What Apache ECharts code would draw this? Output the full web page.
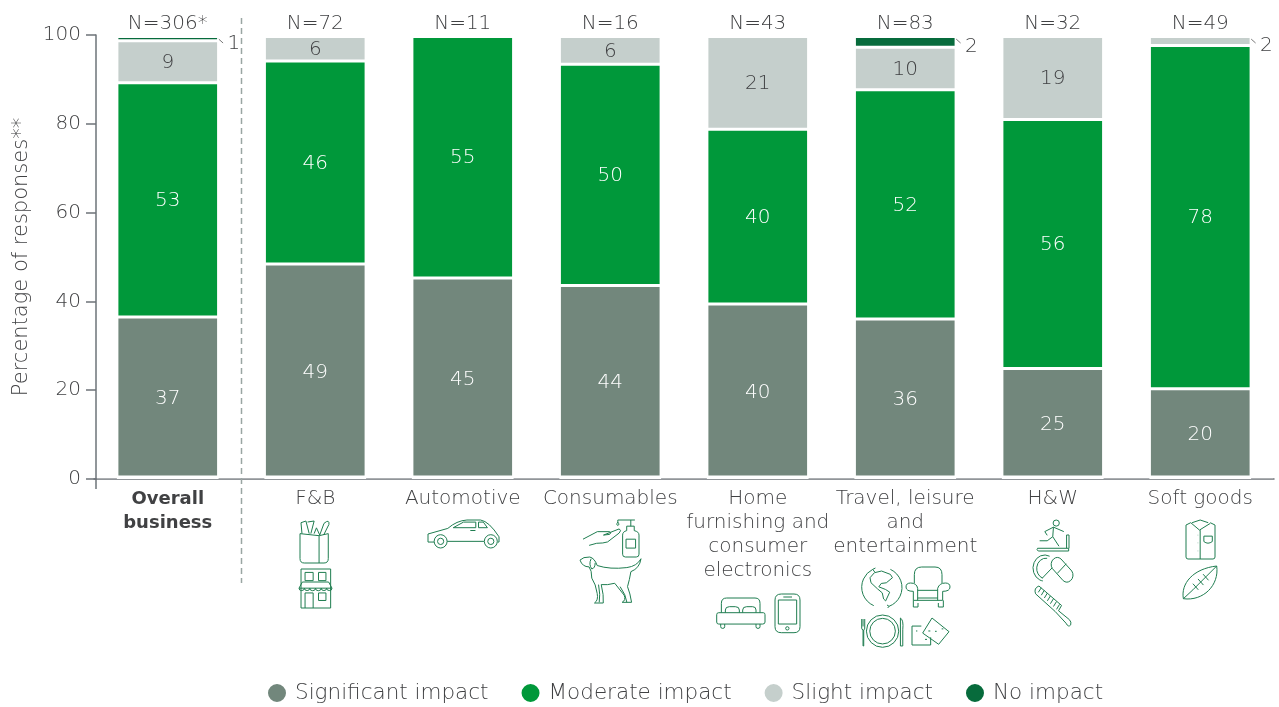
<!DOCTYPE html>
<html><head><meta charset="utf-8">
<style>html,body{margin:0;padding:0;background:#fff}#c{width:1279px;height:707px}</style>
<script src="https://cdn.jsdelivr.net/npm/echarts@6/dist/echarts.min.js"></script>
</head><body><div id="c"></div>
<script>
const categories = ['Overall\nbusiness','F&B','Automotive','Consumables','Home\nfurnishing and\nconsumer\nelectronics','Travel, leisure\nand\nentertainment','H&W','Soft goods'];
const sampleLabels = ['N=306*','N=72','N=11','N=16','N=43','N=83','N=32','N=49'];
const yTicks = [0,20,40,60,80,100];
const significant = [36.60,48.61,45.45,43.75,39.53,36.14,25.00,20.41];
const moderate    = [52.94,45.83,54.55,50.00,39.53,51.81,56.25,77.55];
const slight      = [9.48,5.56,null,6.25,20.93,9.64,18.75,2.04];
const noImpact    = [0.98,null,null,null,null,2.41,null,null];

const TEXT='#404143', FONT='"DejaVu Sans"', FS=20, W=200;
const GRID={left:94,right:5,top:35,bottom:228};
const BAR=101.7;
const ICON='#1f7d50';

function seriesOf(name,values,color,labelColor){
  return {name,type:'bar',stack:'s',xAxisIndex:0,yAxisIndex:1,barWidth:BAR,
    itemStyle:{color,borderColor:'#fff',borderWidth:1.5},
    emphasis:{disabled:true},
    data:values.map(v=>{
      const small=v!=null&&v<3;
      return {value:v,label:{show:v!=null,position:small?'right':'inside',offset:small?[4,5]:[0,1],
        color:small?TEXT:labelColor}};
    }),
    label:{show:true,fontFamily:FONT,fontSize:FS,fontWeight:W,formatter:p=>Math.round(p.value)}};
}

// decorative category pictograms: [path, x, y, w, h]
const icons=[
 ['M662 222V295Q662 308 675 308H735Q748 308 748 295V222L720 228L662 222M720 228V308M668 222L665 190L680 185L690 222M685 188L705 185L695 222M705 222L712 205L722 226M722 226L735 192Q752 178 750 195L734 226',300,521,29,42],
 ['M664 328H752V442H664ZM676 338H700V362H676ZM716 338H738V362H716ZM668 366H746L756 384H658ZM658 384A8 7 0 0 0 674 384A8 7 0 0 0 690 384A8 7 0 0 0 707 384A8 7 0 0 0 724 384A8 7 0 0 0 740 384A8 7 0 0 0 756 384M676 442V398H700V442M716 398H738V420H716Z',299,569,33,39],
 ['M1064 245H1046V222L1104 206Q1130 184 1160 182H1200Q1225 186 1254 230V245H1250M1102 243H1210M1120 204L1150 188H1186V204ZM1194 188H1208L1220 204H1194ZM1170 212H1185M1102 243A19 19 0 1 0 1064 243A19 19 0 1 0 1102 243M1092 243A9 9 0 1 0 1074 243A9 9 0 1 0 1092 243M1249 243A19 19 0 1 0 1211 243A19 19 0 1 0 1249 243M1239 243A9 9 0 1 0 1221 243A9 9 0 1 0 1239 243',428,520,71,28],
 ['M306 198Q306 188 318 185V172H340V185Q354 188 354 198V254Q354 262 346 262H314Q306 262 306 254ZM316 210H344V236H316ZM330 172V154M292 154H342M292 154V160Q286 168 292 170Q298 168 292 160M190 210L232 188H268Q275 190 268 196L250 198M250 198L296 180Q304 184 296 192L262 218Q250 222 230 222L208 228',583,520,56,37],
 ['M181 272Q190 262 210 263Q224 266 232 288Q270 300 320 294Q350 290 362 268Q358 296 332 306Q328 330 322 350Q330 370 334 396L306 396Q318 390 312 375L284 340Q262 346 244 344Q252 375 250 398L224 398Q236 390 232 370L226 345Q212 325 214 305L208 292Q188 292 181 272ZM300 350Q318 375 320 396M236 344Q242 375 238 396M214 268Q206 285 216 298Q226 296 226 280',580,557,61,46],
 ['M596 428H730Q735 428 735 434V456Q735 462 728 462H596Q590 462 590 456V434Q590 428 596 428ZM604 428V400Q604 384 620 384H705Q720 384 720 400V428M616 428V420Q616 410 628 410H646Q658 410 658 420V428M668 428V420Q668 410 680 410H698Q708 410 708 420V428M602 462V470Q602 475 608 475Q614 475 614 470V462M708 462V470Q708 475 714 475Q720 475 720 470V462',716.7,598,48.3,30.4],
 ['M784 372H822Q840 372 840 390V470Q840 488 822 488H784Q765 488 765 470V390Q765 372 784 372ZM775 390H830V462H775ZM790 381H816M807 475A5 5 0 1 0 797 475A5 5 0 1 0 807 475',775,594,25,38.7],
 ['M1063 408A60 60 0 0 1 1060 300M1060 300L1068 296M1060 300L1066 308M1112 300A60 60 0 0 1 1108 410M1108 410L1102 406M1108 410L1104 415M1065 310L1086 305L1112 315L1118 325L1100 340L1085 342L1078 352L1098 360L1110 368L1098 394L1092 388L1088 370L1074 358L1055 340L1052 325Z',861.7,568,40.3,40],
 ['M1183 340V315Q1183 292 1205 292H1245Q1266 292 1266 315V340M1180 392V365Q1158 365 1158 352Q1158 340 1172 340Q1190 340 1193 356V392M1268 392V365Q1290 365 1290 352Q1290 340 1276 340Q1258 340 1253 356V392M1193 362H1253M1193 385H1253M1180 392H1268M1180 392V412H1194V400M1255 400V412H1270V392',906,567,44,40],
 ['M1135 484A48 48 0 1 0 1039 484A48 48 0 1 0 1135 484M1125 484A38 38 0 1 0 1049 484A38 38 0 1 0 1125 484M1025 448V475Q1025 480 1029 480V528H1031V480Q1034 480 1034 475V448M1029 448V470M1140 528V445Q1150 450 1147 480V528Z',861.7,615,41.3,32.3],
 ['M1204 468H1176V522H1232V500M1236 445L1287 484L1256 520L1208 488ZM1225 482H1231M1245 483H1250M1265 476H1270M1188 482H1192M1215 506H1221',912,618,37,27],
 ['M234 234H324V242H236Q230 238 234 234M318 234V195H325V234M297 160A9 9 0 1 0 279 160A9 9 0 1 0 297 160M280 172L255 185L262 196M280 172L310 185M280 172L278 200L296 228M278 200L262 212H240',1037,520,32,31],
 ['M299 266L334 301A20 20 0 0 1 306 329L271 294A20 20 0 0 1 299 266ZM287 308L316 280M262 258A38 38 0 1 0 240 330M254 264A30 30 0 0 0 240 322M238 322L270 292',1033,555,40,27],
 ['M228 372L286 422L318 455Q325 468 332 460Q335 452 328 445L296 420L305 405L238 350Q222 356 228 372M245 355L236 368M254 362L245 376M263 370L254 384M272 378L263 392M281 386L272 400M290 394L281 408M299 402L290 416',1035,586,36,40],
 ['M694 158L680 165V260Q680 266 686 266H760Q766 266 766 260V165L752 158M698 158L722 150L746 158M694 158L720 180L752 160M722 180V266M733 198H758V214Q745 224 733 214ZM715 195H716M715 218H716M715 242H716',1186,520,29,39],
 ['M672 384C664 340 700 296 770 288C778 345 730 392 672 384ZM672 384L700 358M740 318L770 288M700 358L740 318M700 340L716 358M715 326L731 344M730 312L746 330',1183,566,34,33],
];

const iconSeries={type:'custom',name:'icons',coordinateSystem:'none',silent:true,z:5,clip:false,
  data:icons.map((_,i)=>i),
  renderItem:(params)=>{
    const [d,x,y,w,h]=icons[params.dataIndex];
    return {type:'path',shape:{pathData:d,layout:'cover',x,y,width:w,height:h},
      style:{fill:'none',stroke:ICON,lineWidth:1}};
  }};

const chart=echarts.init(document.getElementById('c'),null,{renderer:'canvas'});
chart.setOption({
  animation:false,
  textStyle:{fontFamily:FONT},
  grid:{...GRID,containLabel:false,outerBoundsMode:'none'},
  legend:{top:677,left:261,icon:'circle',itemWidth:20,itemHeight:20,itemGap:31,
    textStyle:{fontFamily:FONT,fontSize:21.5,fontWeight:W,color:TEXT,padding:[0,0,0,3]},
    data:['Significant impact','Moderate impact','Slight impact','No impact']},
  xAxis:[
   {type:'category',data:categories,position:'bottom',
    axisLine:{lineStyle:{color:'#6d7378',width:1.5}},
    axisTick:{length:10,lineStyle:{color:'#6d7378',width:1.5},interval:(i)=>i!==0},
    axisLabel:{interval:0,margin:8,color:TEXT,fontFamily:FONT,fontSize:FS,fontWeight:W,lineHeight:24,
      formatter:(v,i)=>i===0?v.split('\n').map(s=>'{b|'+s+'}').join('\n'):v,
      rich:{b:{fontWeight:700,fontFamily:FONT,fontSize:18,color:TEXT,lineHeight:24}}}},
   {type:'category',data:sampleLabels,position:'top',
    axisLine:{show:false},axisTick:{show:false},
    axisLabel:{interval:0,margin:1,color:TEXT,fontFamily:FONT,fontSize:FS,fontWeight:W}}
  ],
  yAxis:[
   {type:'value',min:yTicks[0],max:yTicks[5],interval:20,offset:-2,
    name:'Percentage of responses**',nameLocation:'middle',nameGap:56,
    nameTextStyle:{color:TEXT,fontFamily:FONT,fontSize:21,fontWeight:W},
    axisLine:{show:true,lineStyle:{color:'#6d7378',width:1.5}},
    axisTick:{show:true,length:10,lineStyle:{color:'#6d7378',width:1.5}},
    axisLabel:{margin:15,color:TEXT,fontFamily:FONT,fontSize:FS,fontWeight:W,padding:[2,0,0,0]},
    splitLine:{show:false}},
   {type:'value',min:0,max:100.34,show:false,splitLine:{show:false}}
  ],
  series:[
   seriesOf('Significant impact',significant,'#72877c','#fff'),
   seriesOf('Moderate impact',moderate,'#00983a','#fff'),
   seriesOf('Slight impact',slight,'#c5cfcc',TEXT),
   seriesOf('No impact',noImpact,'#076b3c','#fff'),
   iconSeries
  ]
});

// annotations placed from the axes
const px=(c,v)=>chart.convertToPixel({xAxisIndex:0,yAxisIndex:1},[c,v]);
const els=[];
const band=(1279-GRID.left-GRID.right)/categories.length;
const divX=GRID.left+band;
const baseY=707-GRID.bottom;
els.push({type:'rect',silent:true,z:3,shape:{x:97,y:baseY-3.4,width:1176,height:2.6},style:{fill:'#fff'}});
els.push({type:'line',silent:true,z:4,shape:{x1:divX,y1:18,x2:divX,y2:583},style:{stroke:'#9aa6a3',lineWidth:1.5,lineDash:[6,4]}});
els.push({type:'line',silent:true,shape:{x1:96,y1:479,x2:96,y2:489},style:{stroke:'#6d7378',lineWidth:1.5}});
[0,5,7].forEach(i=>{
  const p=px(i,100),xr=p[0]+BAR/2-1.5;
  els.push({type:'line',silent:true,shape:{x1:xr+1.5,y1:p[1]+2.5,x2:xr+6,y2:p[1]+6.5},style:{stroke:'#777',lineWidth:1}});
});
chart.setOption({graphic:{elements:els}});
</script></body></html>
